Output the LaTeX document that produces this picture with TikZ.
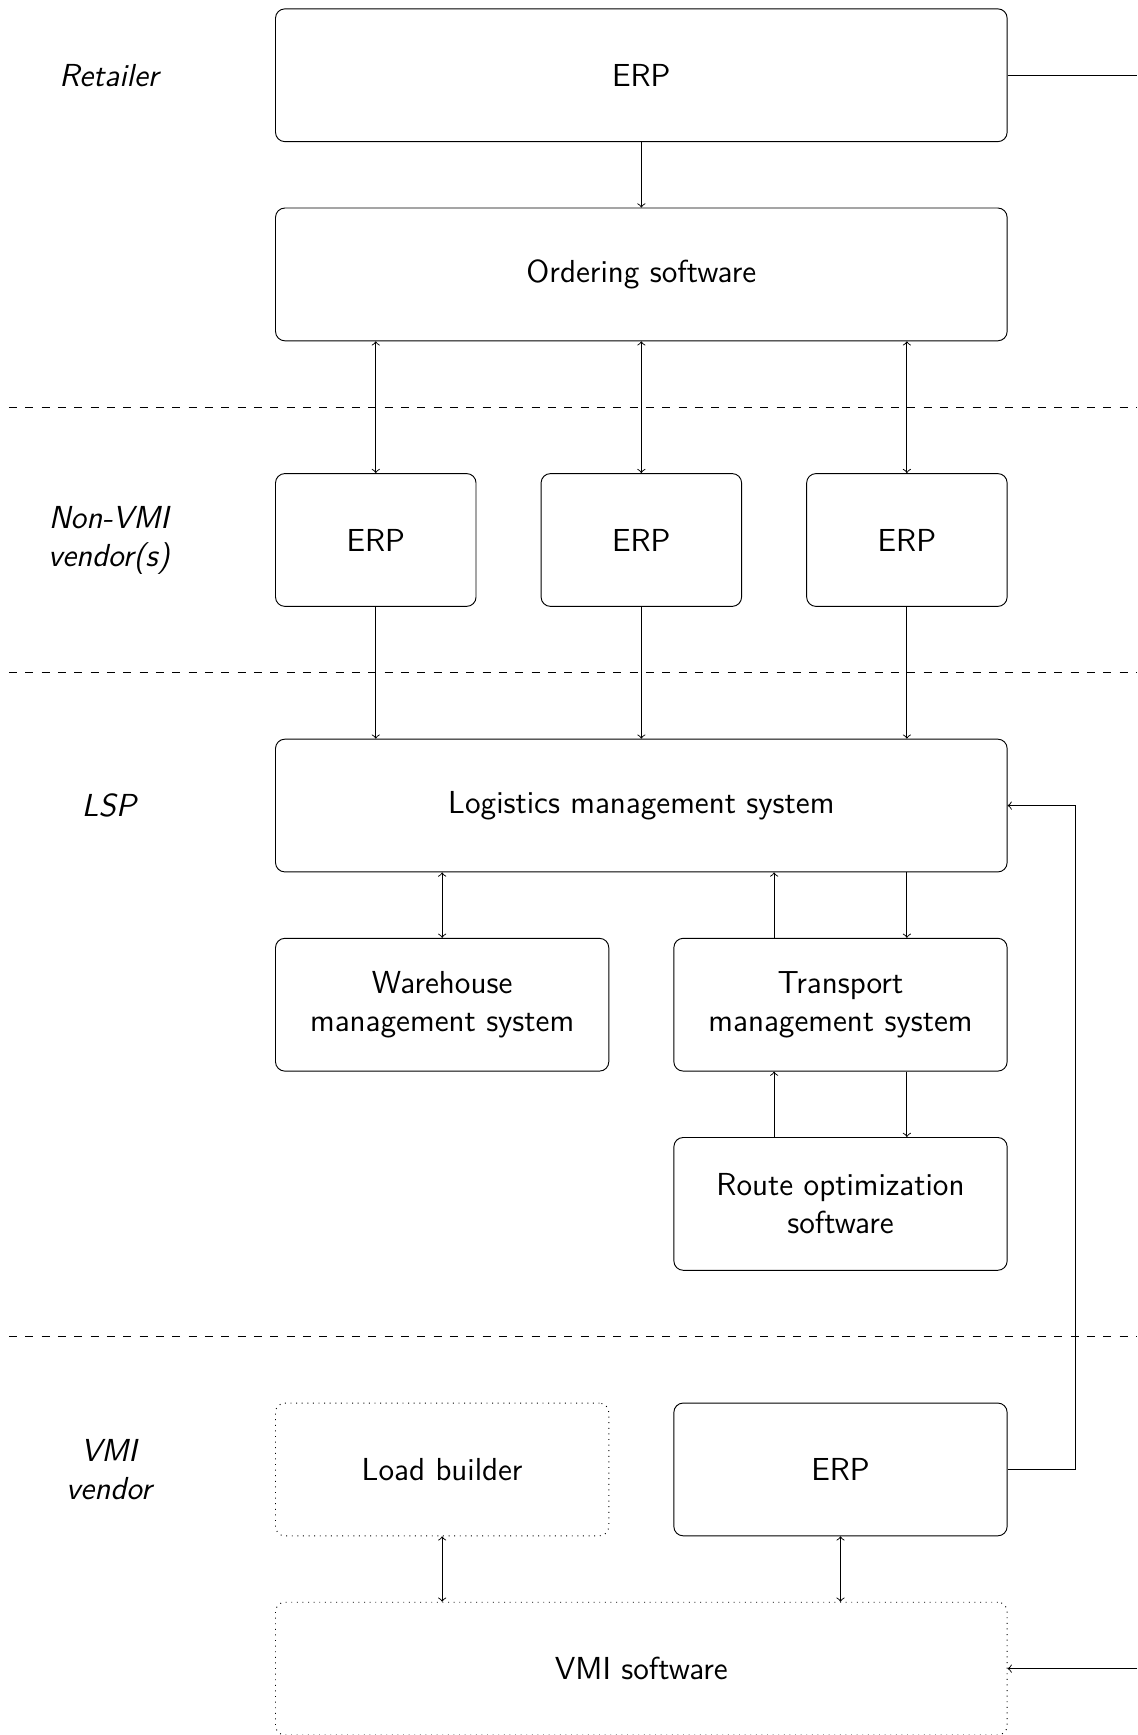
\documentclass[tikz,border=0pt]{standalone}
\begin{document}
\begin{tikzpicture}[x=1cm,y=1cm,
  box/.style={draw, rounded corners=4pt, minimum width=#1, minimum height=2cm,
    align=center, inner sep=0pt, font=\sffamily\fontsize{13.65}{16.3}\selectfont},
  dbox/.style={box=#1, dotted},
  lane/.style={align=center, font=\sffamily\itshape\fontsize{13.65}{16.3}\selectfont},
  sep/.style={dash pattern=on 3.5pt off 3.5pt},
  >=to
]
\useasboundingbox (0,0) rectangle (17.1333,-26.1333);
\def\cx{9.66}
% lane labels
\node[lane] (lr) at (1.64,-1.1333) {Retailer};
\node[lane] (ln) at (1.64,-8.1333) {Non-VMI\\vendor(s)};
\node[lane] (ll) at (1.64,-12.1333) {LSP};
\node[lane] (lv) at (1.64,-22.1333) {VMI\\vendor};
% separators
\coordinate (s1a) at (0.1333,-6.1333);  \coordinate (s1b) at (17.1333,-6.1333);
\coordinate (s2a) at (0.1333,-10.1333); \coordinate (s2b) at (17.1333,-10.1333);
\coordinate (s3a) at (0.1333,-20.1333); \coordinate (s3b) at (17.1333,-20.1333);
\draw[sep] (s1a) -- (s1b);
\draw[sep] (s2a) -- (s2b);
\draw[sep] (s3a) -- (s3b);
% nodes
\node[box=11.02cm] (erpr) at (\cx,-1.1333) {ERP};
\node[box=11.02cm] (ord) at (\cx,-4.1333) {Ordering software};
\node[box=3.02cm] (e1) at (\cx-4,-8.1333) {ERP};
\node[box=3.02cm] (e2) at (\cx,-8.1333) {ERP};
\node[box=3.02cm] (e3) at (\cx+4,-8.1333) {ERP};
\node[box=11.02cm] (lms) at (\cx,-12.1333) {Logistics management system};
\node[box=5.02cm] (wms) at (\cx-3,-15.1333) {Warehouse\\management system};
\node[box=5.02cm] (tms) at (\cx+3,-15.1333) {Transport\\management system};
\node[box=5.02cm] (ros) at (\cx+3,-18.1333) {Route optimization\\software};
\node[dbox=5.02cm] (lb) at (\cx-3,-22.1333) {Load builder};
\node[box=5.02cm] (verp) at (\cx+3,-22.1333) {ERP};
\node[dbox=11.02cm] (vsw) at (\cx,-25.1333) {VMI software};
% connectors
\draw[->] (erpr) -- (ord);
\draw[<->] (e1.north |- ord.south) -- (e1.north);
\draw[<->] (e2.north |- ord.south) -- (e2.north);
\draw[<->] (e3.north |- ord.south) -- (e3.north);
\draw[->] (e1.south) -- (e1.south |- lms.north);
\draw[->] (e2.south) -- (e2.south |- lms.north);
\draw[->] (e3.south) -- (e3.south |- lms.north);
\draw[<->] (wms.north |- lms.south) -- (wms.north);
\draw[->] ([xshift=-1cm]tms.north) -- ([xshift=-1cm]tms.north |- lms.south);
\draw[->] ([xshift=1cm]tms.north |- lms.south) -- ([xshift=1cm]tms.north);
\draw[->] ([xshift=-1cm]ros.north) -- ([xshift=-1cm]ros.north |- tms.south);
\draw[->] ([xshift=1cm]ros.north |- tms.south) -- ([xshift=1cm]ros.north);
\draw[<->] (lb.south) -- (lb.south |- vsw.north);
\draw[<->] (verp.south) -- (verp.south |- vsw.north);
\draw[->] (verp.east) -- ++(1.02,0) |- (lms.east);
\coordinate (rtop) at (17.1333,-1.1333);
\coordinate (rbot) at (17.1333,-25.1333);
\draw (erpr.east) -- (rtop);
\draw[->] (rbot) -- (vsw.east);
\end{tikzpicture}
\end{document}
